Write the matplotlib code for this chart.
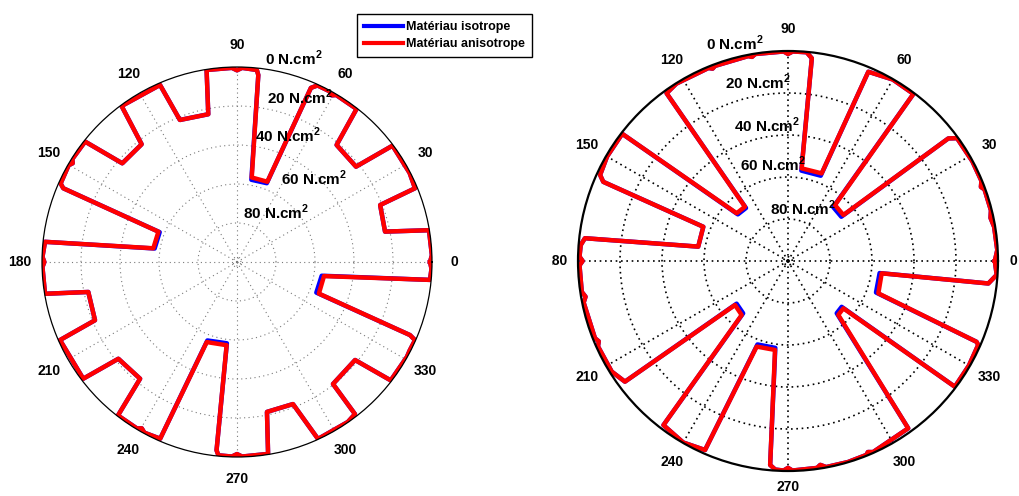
import numpy as np
import matplotlib.pyplot as plt
from matplotlib.lines import Line2D
from matplotlib.transforms import Bbox, TransformedBbox

plt.rcParams['font.family'] = ['Liberation Sans', 'DejaVu Sans']
plt.rcParams['mathtext.fontset'] = 'custom'
plt.rcParams['mathtext.rm'] = 'Liberation Sans'
plt.rcParams['mathtext.bf'] = 'Liberation Sans:bold'

# contact pressure (N.cm2) versus angle (deg)
theta_left = [0, 2, 9.4, 11.6, 21.7, 22.5, 27.3, 36.8, 38.7, 49.6,
              52.0, 59.3, 60.4, 61.5, 65.5, 67.0, 69.3, 80.1, 83.5, 84.1,
              88.5, 90, 91.5, 99.0, 101.0, 111.9, 113.5, 126.5, 129.0, 139.3,
              141.6, 148.0, 149.0, 150.0, 156.0, 157.0, 158.9, 170.7, 174.0, 178.5,
              180, 181.5, 189.4, 191.4, 202.3, 203.8, 217.2, 219.2, 230.3, 232.2,
              239.0, 240.2, 241.5, 246.5, 249.3, 262.9, 263.8, 264.5, 268.5, 270,
              271.5, 279.2, 281.3, 291.5, 294.6, 304.7, 307.8, 308.2, 320.3, 322.4,
              330.8, 332.9, 336.3, 337.1, 338.9, 350.8, 354.7, 358.0, 360]
p_left_aniso = [1.0, 0.0, 0.2, 22.5, 21.0, 1.2, 0.4, 0.4, 21.8, 21.2,
                0.4, 0.4, 1.7, 0.4, 0.5, 3.0, 56.0, 56.0, 3.5, 1.0,
                0.4, 1.7, 0.4, 0.3, 22.8, 21.5, 1.0, 0.5, 22.3, 22.4,
                0.6, 0.4, 1.7, 0.4, 1.0, 3.2, 56.8, 56.5, 1.0, 0.2,
                1.2, 0.2, 0.2, 22.2, 21.3, 0.8, 1.0, 21.5, 22.2, 0.4,
                0.4, 1.7, 0.4, 1.2, 56.1, 57.0, 2.9, 0.4, 0.2, 1.5,
                0.2, 0.3, 21.6, 21.7, 0.2, 0.2, 1.3, 20.4, 21.3, 0.5,
                0.2, 0.5, 0.3, 3.7, 55.0, 54.8, 0.6, 0.2, 1.0]
p_left_iso = [1.0, 0.0, 0.2, 22.5, 21.0, 1.2, 0.4, 0.4, 21.8, 21.2,
              0.4, 0.4, 1.7, 0.4, 0.5, 3.0, 56.8, 57.2, 3.5, 1.0,
              0.4, 1.7, 0.4, 0.3, 22.8, 21.5, 1.0, 0.5, 22.3, 22.4,
              0.6, 0.4, 1.7, 0.4, 1.0, 3.2, 57.5, 57.2, 1.0, 0.2,
              1.2, 0.2, 0.2, 22.2, 21.3, 0.8, 1.0, 21.5, 22.2, 0.4,
              0.4, 1.7, 0.4, 1.2, 57.0, 58.0, 2.9, 0.4, 0.2, 1.5,
              0.2, 0.3, 21.6, 21.7, 0.2, 0.2, 1.3, 20.4, 21.3, 0.5,
              0.2, 0.5, 0.3, 3.7, 56.4, 56.0, 0.6, 0.2, 1.0]

theta_right = [0, 3, 9.4, 12, 14, 20, 21, 22.5, 28.4, 36.0,
               37.4, 39.7, 50.0, 53.1, 60.0, 67.0, 69.0, 81.6, 83.3, 84.9,
               88.7, 90, 91.2, 99.0, 100.0, 101.0, 110.5, 111.4, 112.4, 122.2,
               125.9, 128.4, 137.1, 142.5, 150.0, 155.4, 156.8, 158.0, 170.9, 173.6,
               175.6, 178.8, 180.0, 181.2, 188.5, 190.0, 191.5, 201.8, 203.0, 204.2,
               212.1, 216.5, 219.7, 229.4, 232.8, 240.0, 246.3, 249.9, 261.7, 265.0,
               266.5, 268.8, 270.0, 271.2, 278.0, 279.0, 280.5, 286.6, 292.0, 292.7,
               294.0, 305.7, 313.0, 319.5, 323.0, 330.0, 336.2, 336.8, 340.3, 352.5,
               353.6, 356.2, 360]
p_right_aniso = [1.5, 0.2, 0.5, 1.4, 0.4, 0.4, 1.6, 0.3, 0.2, 0.5,
                 3.9, 65.7, 65.2, 0.5, 0.2, 2.1, 55.3, 55.4, 2.8, 0.2,
                 0.2, 1.4, 0.2, 0.2, 1.3, 0.6, 0.8, 1.6, 0.6, 0.2,
                 1.4, 67.0, 66.6, 0.5, 0.5, 1.6, 4.3, 56.5, 56.7, 2.7,
                 1.0, 0.7, 2.2, 0.7, 0.7, 2.1, 0.7, 1.0, 2.1, 0.8,
                 0.9, 3.4, 67.2, 66.1, 1.9, 0.2, 1.7, 56.6, 57.2, 2.5,
                 0.5, 0.2, 1.5, 0.2, 0.5, 1.7, 0.2, 0.1, 0.4, 1.4,
                 0.4, 1.9, 64.9, 65.3, 0.5, 0.5, 1.0, 2.3, 54.3, 55.0,
                 4.0, 0.4, 1.5]
p_right_iso = [1.5, 0.2, 0.5, 1.4, 0.4, 0.4, 1.6, 0.3, 0.2, 0.5,
               3.9, 67.0, 66.5, 0.5, 0.2, 2.1, 56.5, 56.5, 2.8, 0.2,
               0.2, 1.4, 0.2, 0.2, 1.3, 0.6, 0.8, 1.6, 0.6, 0.2,
               1.4, 67.8, 67.4, 0.5, 0.5, 1.6, 4.3, 56.5, 56.7, 2.7,
               1.0, 0.7, 2.2, 0.7, 0.7, 2.1, 0.7, 1.0, 2.1, 0.8,
               0.9, 3.4, 68.2, 67.2, 1.9, 0.2, 1.7, 57.7, 58.2, 2.5,
               0.5, 0.2, 1.5, 0.2, 0.5, 1.7, 0.2, 0.1, 0.4, 1.4,
               0.4, 1.9, 66.0, 66.4, 0.5, 0.5, 1.0, 2.3, 55.5, 56.0,
               4.0, 0.4, 1.5]

angle_ticks = [0, 30, 60, 90, 120, 150, 180, 210, 240, 270, 300, 330]
pressure_ticks = [0, 20, 40, 60, 80]
pressure_labels = [r'%d N.cm$^{\mathbf{2}}$' % p for p in pressure_ticks]
legend_labels = ['Matériau isotrope', 'Matériau anisotrope']

fig = plt.figure(figsize=(10.19, 4.96), dpi=100)
ax1 = fig.add_axes([0.04122, 0.07863, 0.38273, 0.78629], projection='polar')
ax2 = fig.add_axes([0.56722, 0.05040, 0.41217, 0.84677], projection='polar')


def draw_panel(ax, theta, p_iso, p_aniso, gcolor, glw, gdash, frame_lw):
    t = np.radians(theta)
    ax.plot(t, p_iso, color='blue', lw=3.2, solid_joinstyle='round')
    ax.plot(t, p_aniso, color='red', lw=3.2, solid_joinstyle='round')
    ax.set_ylim(100, 0)
    ax.set_xticks(np.radians(angle_ticks))
    ax.set_yticks([20, 40, 60, 80, 98])
    ax.set_xticklabels([])
    ax.set_yticklabels([])
    ax.grid(True, color=gcolor, lw=glw, linestyle=(0, gdash))
    ax.spines['polar'].set_linewidth(frame_lw)
    ax.spines['polar'].set_color('black')


draw_panel(ax1, theta_left, p_left_iso, p_left_aniso, '#7a7a7a', 0.8, (1, 3), 0.9)
draw_panel(ax2, theta_right, p_right_iso, p_right_aniso, 'black', 1.2, (1, 2.2), 1.6)

# angle labels
for a in angle_ticks:
    ax1.text(np.radians(a), -11.5, str(a), ha='center', va='center',
             fontsize=10, fontweight='bold')
    off = -10.5
    if a == 0:
        off = -7.5
    elif a == 270:
        off = -7.5
    t = ax2.text(np.radians(a), off, str(a), ha='center', va='center',
                 fontsize=10, fontweight='bold')
    if a == 180:
        # the leading digit is hidden in the original figure
        t.set_clip_path(None)
        t.set_clip_box(TransformedBbox(Bbox.from_extents(5.52, 0, 10.19, 4.96),
                                       fig.dpi_scale_trans))
        t.set_clip_on(True)

# radial labels (placed by hand in the original)
pos_left = [(0.646, 1.023), (0.662, 0.923), (0.631, 0.826), (0.697, 0.715), (0.600, 0.628)]
pos_right = [(0.374, 1.019), (0.429, 0.925), (0.450, 0.824), (0.464, 0.729), (0.536, 0.626)]
for lab, (x, y) in zip(pressure_labels, pos_left):
    ax1.text(x, y, lab, transform=ax1.transAxes, ha='center', va='center',
             fontsize=11, fontweight='bold')
for lab, (x, y) in zip(pressure_labels, pos_right):
    ax2.text(x, y, lab, transform=ax2.transAxes, ha='center', va='center',
             fontsize=11, fontweight='bold')

handles = [Line2D([], [], color='blue', lw=3), Line2D([], [], color='red', lw=3)]
fig.legend(handles, legend_labels, loc='upper left',
           bbox_to_anchor=(357 / 1019, 1 - 14 / 496), borderaxespad=0,
           fancybox=False, edgecolor='black', framealpha=1,
           prop={'size': 9, 'weight': 'bold'}, handlelength=3.1,
           handletextpad=0.3, borderpad=0.55, labelspacing=0.45)

fig.savefig('out.png', dpi=100)
